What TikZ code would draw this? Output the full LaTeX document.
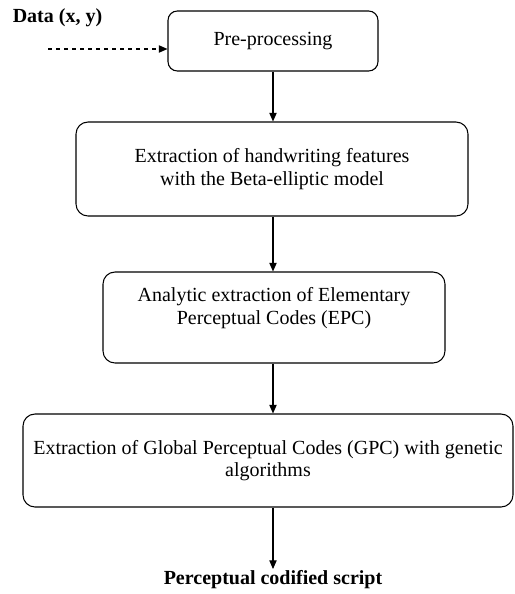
\documentclass[tikz,border=0pt]{standalone}
\usepackage{fontspec}
\setmainfont{Liberation Serif}
\usetikzlibrary{arrows.meta}
\tikzset{
    stepbox/.style={draw, rounded corners=9pt, align=center, line width=0.8pt, inner sep=2pt},
    flow/.style={-{Triangle[length=6.5pt,width=5.5pt]}, line width=0.8pt},
}
\begin{document}
\begin{tikzpicture}[x=0.75pt,y=-0.75pt,font={\fontsize{15}{17}\selectfont}]
    \useasboundingbox (0,0) rectangle (515,594);

    % boxes
    \node[stepbox, rounded corners=7pt, minimum width=157.5pt, minimum height=45pt] (pre) at (273,41) {Pre-processing};
    \node[stepbox, minimum width=294pt, minimum height=70.5pt] (feat) at (272,169) {Extraction of handwriting features\\ with the Beta-elliptic model};
    \node[stepbox, minimum width=256.5pt, minimum height=68.25pt] (epc) at (274,317.5) {Analytic extraction of Elementary\\ Perceptual Codes (EPC)\\ \mbox{}};
    \node[stepbox, minimum width=367.5pt, minimum height=69.75pt] (gpc) at (268,460.5) {Extraction of Global Perceptual Codes (GPC) with genetic\\ algorithms};

    % input and output
    \node[font={\fontsize{15}{17}\selectfont\bfseries}] (data) at (57.5,18) {Data (x, y)};
    \coordinate (src) at (48,49);
    \node[font={\fontsize{15}{17}\selectfont\bfseries}, anchor=north, inner sep=1pt] (out) at (273,569) {Perceptual codified script};

    % arrows
    \draw[flow, dashed] (src) -- (src -| pre.west);
    \draw[flow] (pre.south) -- (pre.south |- feat.north);
    \draw[flow] (pre.south |- feat.south) -- (pre.south |- epc.north);
    \draw[flow] (pre.south |- epc.south) -- (pre.south |- gpc.north);
    \draw[flow] (pre.south |- gpc.south) -- (out);
\end{tikzpicture}
\end{document}
